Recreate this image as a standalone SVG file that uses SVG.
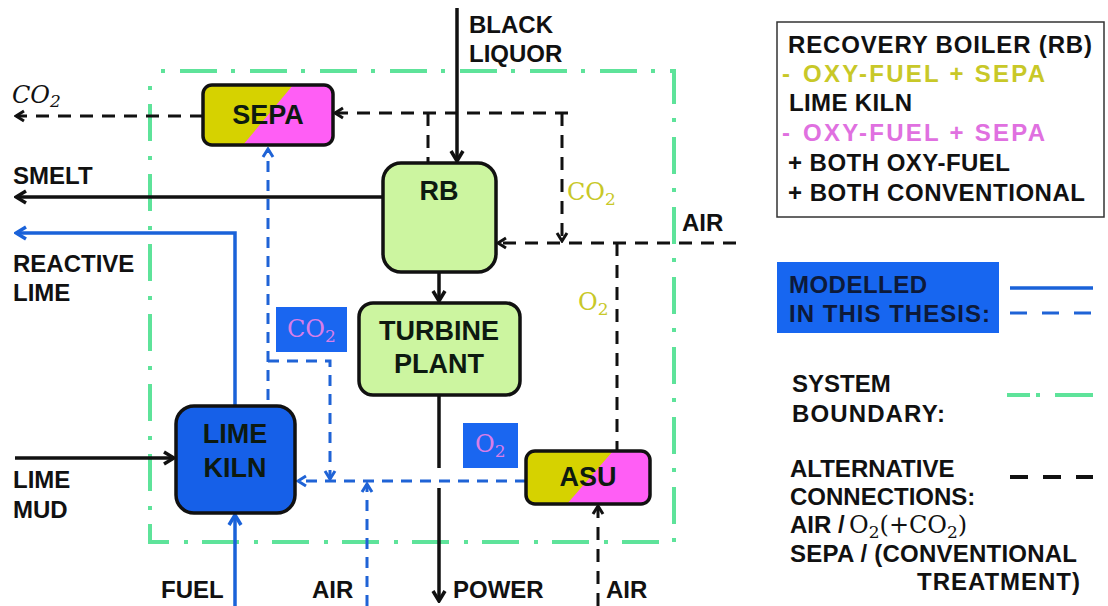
<svg xmlns="http://www.w3.org/2000/svg" width="1108" height="606" viewBox="0 0 1108 606">
<style>
  text { font-family: "Liberation Sans", Arial, sans-serif; font-weight: bold; fill: #111; }
  .lbl { font-size: 24px; }
  .node { font-size: 27px; text-anchor: middle; fill: #0d1a10; }
  .leg { font-size: 24px; }
  .math { font-family: "DejaVu Serif", "Liberation Serif", serif; font-weight: normal; font-size: 24px; }
  .yel { fill: #c8c828; }
  .mag { fill: #d97ee8; }
  .bk { stroke: #111; stroke-width: 3.5; fill: none; }
  .bkd { stroke: #111; stroke-width: 3; fill: none; stroke-dasharray: 13 9; }
  .bl { stroke: #1a62d9; stroke-width: 3.5; fill: none; }
  .bld { stroke: #1f63d6; stroke-width: 3; fill: none; stroke-dasharray: 11 8; }
  .bound { stroke: #5ee39a; stroke-width: 4; fill: none; stroke-dasharray: 37 14 4 15; stroke-dashoffset: 40; }
  .box { stroke: #111; stroke-width: 3.5; }
</style>
<defs>
  <marker id="ab" viewBox="0 0 14 16" refX="12" refY="8" markerWidth="14" markerHeight="16" markerUnits="userSpaceOnUse" orient="auto">
    <path d="M2,2 L12,8 L2,14" fill="none" stroke="#111" stroke-width="3.5" stroke-dasharray="none"/>
  </marker>
  <marker id="abs" viewBox="0 0 12 14" refX="10" refY="7" markerWidth="12" markerHeight="14" markerUnits="userSpaceOnUse" orient="auto">
    <path d="M2,2 L10,7 L2,12" fill="none" stroke="#111" stroke-width="3" stroke-dasharray="none"/>
  </marker>
  <marker id="bb" viewBox="0 0 14 16" refX="12" refY="8" markerWidth="14" markerHeight="16" markerUnits="userSpaceOnUse" orient="auto">
    <path d="M2,2 L12,8 L2,14" fill="none" stroke="#1a62d9" stroke-width="3.5" stroke-dasharray="none"/>
  </marker>
  <marker id="bbs" viewBox="0 0 12 14" refX="10" refY="7" markerWidth="12" markerHeight="14" markerUnits="userSpaceOnUse" orient="auto">
    <path d="M2,2 L10,7 L2,12" fill="none" stroke="#1f63d6" stroke-width="3" stroke-dasharray="none"/>
  </marker>
  <clipPath id="cSepa"><rect x="203" y="85" width="130" height="60" rx="9"/></clipPath>
  <clipPath id="cAsu"><rect x="526" y="451" width="124" height="53" rx="9"/></clipPath>
</defs>
<rect width="1108" height="606" fill="#ffffff"/>

<!-- system boundary -->
<rect class="bound" x="150" y="71" width="524" height="471"/>

<g id="connectors">
  <!-- black solid -->
  <path class="bk" d="M457,8 V161" marker-end="url(#ab)"/>
  <path class="bk" d="M383,197 H16" marker-end="url(#ab)"/>
  <path class="bk" d="M439,272 V301" marker-end="url(#ab)"/>
  <path class="bk" d="M439,395 V468"/>
  <path class="bk" d="M439,488 V601" marker-end="url(#ab)"/>
  <path class="bk" d="M15,458 H174" marker-end="url(#ab)"/>
  <!-- blue solid -->
  <path class="bl" d="M235,406 V233 H16" marker-end="url(#bb)"/>
  <path class="bl" d="M235,606 V515" marker-end="url(#bb)"/>
  <!-- blue dashed -->
  <path class="bld" d="M268,400 V149" marker-end="url(#bbs)"/>
  <path class="bld" d="M268,361 H330 V479" marker-end="url(#bbs)"/>
  <path class="bld" d="M526,481 H298" marker-end="url(#bbs)"/>
  <path class="bld" d="M367,606 V484" marker-end="url(#bbs)"/>
  <!-- black dashed -->
  <path class="bkd" d="M203,116 H16" marker-end="url(#abs)"/>
  <path class="bkd" d="M568,113 H335" marker-end="url(#abs)"/>
  <path class="bkd" d="M428,113 V163"/>
  <path class="bkd" d="M562,113 V241" marker-end="url(#abs)"/>
  <path class="bkd" d="M736,243 H498" marker-end="url(#abs)"/>
  <path class="bkd" d="M617,243 V451"/>
  <path class="bkd" d="M598,606 V506" marker-end="url(#abs)"/>
</g>

<g id="node-sepa">
  <g clip-path="url(#cSepa)">
    <rect x="203" y="85" width="130" height="60" fill="#d6d200"/>
    <polygon points="293,85 333,85 333,145 243,145" fill="#ff5ef5"/>
  </g>
  <rect class="box" x="203" y="85" width="130" height="60" rx="9" fill="none"/>
  <text class="node" x="268" y="124">SEPA</text>
</g>

<g id="node-rb">
  <rect class="box" x="383" y="163" width="113" height="109" rx="18" fill="#ccf5a0"/>
  <text class="node" x="439" y="200">RB</text>
</g>

<g id="node-turbine">
  <rect class="box" x="359" y="303" width="161" height="92" rx="14" fill="#ccf5a0"/>
  <text class="node" x="439" y="340">TURBINE</text>
  <text class="node" x="439" y="373">PLANT</text>
</g>

<g id="node-kiln">
  <rect class="box" x="176" y="406" width="119" height="107" rx="18" fill="#1660e8"/>
  <text class="node" x="235" y="443">LIME</text>
  <text class="node" x="235" y="477">KILN</text>
</g>

<g id="node-asu">
  <g clip-path="url(#cAsu)">
    <rect x="526" y="451" width="124" height="53" fill="#d6d200"/>
    <polygon points="613,451 650,451 650,504 567,504" fill="#ff5ef5"/>
  </g>
  <rect class="box" x="526" y="451" width="124" height="53" rx="9" fill="none"/>
  <text class="node" x="588" y="486">ASU</text>
</g>

<g id="label-boxes">
  <rect x="276" y="307" width="71" height="45" fill="#1a66f0"/>
  <text class="math mag" x="287" y="337">CO<tspan font-size="17" dy="5">2</tspan></text>
  <rect x="463" y="423" width="55" height="45" fill="#1a66f0"/>
  <text class="math mag" x="475" y="452">O<tspan font-size="17" dy="5">2</tspan></text>
</g>

<g id="labels">
  <text class="math" x="12" y="103" font-style="italic">CO<tspan font-size="17" dy="4">2</tspan></text>
  <text class="lbl" x="13" y="184">SMELT</text>
  <text class="lbl" x="13" y="272">REACTIVE</text>
  <text class="lbl" x="13" y="301">LIME</text>
  <text class="lbl" x="13" y="488">LIME</text>
  <text class="lbl" x="13" y="518">MUD</text>
  <text class="lbl" x="469" y="33">BLACK</text>
  <text class="lbl" x="469" y="62">LIQUOR</text>
  <text class="math yel" x="567" y="200">CO<tspan font-size="17" dy="5">2</tspan></text>
  <text class="lbl" x="682" y="231">AIR</text>
  <text class="math yel" x="578" y="310">O<tspan font-size="17" dy="5">2</tspan></text>
  <text class="lbl" x="161" y="598">FUEL</text>
  <text class="lbl" x="312" y="598">AIR</text>
  <text class="lbl" x="453" y="598">POWER</text>
  <text class="lbl" x="606" y="598">AIR</text>
</g>

<g id="legend">
  <rect x="777" y="22" width="327" height="195" fill="#ffffff" stroke="#333" stroke-width="1.5"/>
  <text class="leg" x="788" y="53" textLength="304">RECOVERY BOILER (RB)</text>
  <text class="leg yel" x="782" y="82">-</text>
  <text class="leg yel" x="803" y="82" textLength="242">OXY-FUEL + SEPA</text>
  <text class="leg" x="789" y="111" textLength="123">LIME KILN</text>
  <text class="leg" x="782" y="141" style="fill:#e070e0">-</text>
  <text class="leg" x="803" y="141" textLength="242" style="fill:#e070e0">OXY-FUEL + SEPA</text>
  <text class="leg" x="788" y="171" textLength="222">+ BOTH OXY-FUEL</text>
  <text class="leg" x="788" y="201" textLength="297">+ BOTH CONVENTIONAL</text>

  <rect x="777" y="262" width="222" height="71" fill="#1766f0"/>
  <text class="leg" x="789" y="293" textLength="138" style="fill:#0d1a3a">MODELLED</text>
  <text class="leg" x="789" y="322" textLength="201" style="fill:#0d1a3a">IN THIS THESIS:</text>
  <path class="bl" d="M1010,288 H1093"/>
  <path class="bld" d="M1010,313 H1093" style="stroke-dasharray:17 15"/>

  <text class="leg" x="792" y="392">SYSTEM</text>
  <text class="leg" x="792" y="422" textLength="153">BOUNDARY:</text>
  <path d="M1007,395 H1030 M1036,395 H1040 M1055,395 H1093" stroke="#5ee39a" stroke-width="4" fill="none"/>

  <text class="leg" x="790" y="477">ALTERNATIVE</text>
  <text class="leg" x="790" y="505">CONNECTIONS:</text>
  <text class="leg" x="790" y="533">AIR /</text>
  <text class="math" x="849" y="533">O<tspan font-size="17" dy="5">2</tspan><tspan dy="-5">(+CO</tspan><tspan font-size="17" dy="5">2</tspan><tspan dy="-5">)</tspan></text>
  <text class="leg" x="790" y="562" textLength="287">SEPA / (CONVENTIONAL</text>
  <text class="leg" x="917" y="590" textLength="163">TREATMENT)</text>
  <path d="M1010,477 H1093" stroke="#111" stroke-width="4" fill="none" stroke-dasharray="18 15"/>
</g>
</svg>
